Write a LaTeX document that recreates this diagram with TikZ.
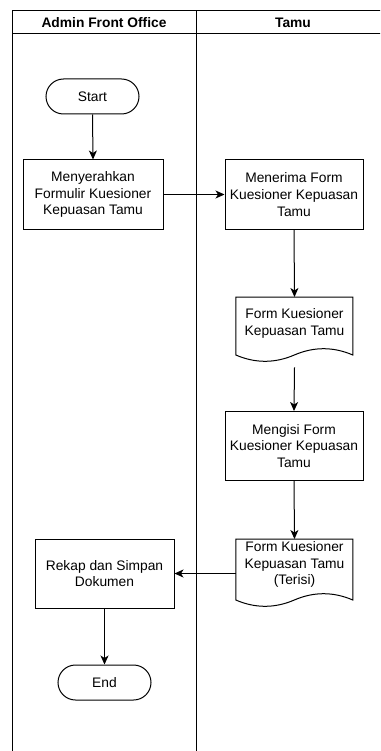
\documentclass[tikz,border=0pt]{standalone}
\usepackage{fontspec}
\setmainfont{Liberation Sans}
\usetikzlibrary{arrows.meta,calc}

\tikzset{
  x=1pt, y=-1pt,
  every node/.style={font=\fontsize{13.8}{16.6}\selectfont, align=center, text=black},
  lane/.style={draw=black, line width=1pt},
  lanehead/.style={font=\fontsize{13.8}{16.6}\selectfont\bfseries},
  process/.style={draw=black, line width=1pt, rectangle, minimum width=139pt, minimum height=69pt, inner sep=1pt},
  terminal/.style={draw=black, line width=1pt, rectangle, rounded corners=17.5pt, minimum width=93pt, minimum height=35pt},
  docarea/.style={rectangle, minimum width=117pt, inner sep=1pt},
  docline/.style={draw=black, line width=1pt, fill=white},
  flow/.style={draw=black, line width=1pt, -{Stealth[length=9pt, width=8pt, inset=2.5pt]}}
}

% document symbol: straight top and sides, wavy bottom; #1 = node, #2 = full height
\newcommand{\docwave}[2]{%
  \draw[docline, shift={(#1.north west)}]
    (0,0) -- (117,0) -- (117,{#2-7})
    .. controls (97.5,{#2-15.4}) and (78,{#2-15.4}) .. (58.5,{#2-7})
    .. controls (39,{#2+1.4}) and (19.5,{#2+1.4}) .. (0,{#2-7}) -- cycle;}

\begin{document}
\begin{tikzpicture}
\useasboundingbox (0,0) rectangle (380,751);
\clip (0,0) rectangle (380,751);
\fill[white] (0,0) rectangle (380,751);

% swimlanes
\draw[lane] (12,760) -- (12,11) -- (390,11) -- (390,760);
\draw[lane] (12,34) -- (390,34);
\draw[lane] (196,11) -- (196,760);
\node[lanehead] (laneA) at (104,22.5) {Admin Front Office};
\node[lanehead] (laneB) at (293,22.5) {Tamu};

% Admin Front Office
\node[terminal] (start) at (92.5,96.5) {Start};
\node[process, minimum width=140pt] (serah) at (93,194.5) {Menyerahkan\\Formulir Kuesioner\\Kepuasan Tamu};
\node[process] (rekap) at (104.5,573.5) {Rekap dan Simpan\\Dokumen};
\node[terminal] (end) at (104.5,682.5) {End};

% Tamu
\node[process, minimum width=138pt] (terima) at (294,194.5) {Menerima Form\\Kuesioner Kepuasan\\Tamu};
\node[docarea, minimum height=53pt, anchor=north] (doc1) at (294.5,297) {};
\docwave{doc1}{65}
\node (doc1text) at (doc1.center) {Form Kuesioner\\Kepuasan Tamu};
\node[process, minimum width=138pt] (isi) at (294,446) {Mengisi Form\\Kuesioner Kepuasan\\Tamu};
\node[docarea, minimum height=51pt, anchor=north] (doc2) at (294.5,539) {};
\docwave{doc2}{68}
\node (doc2text) at (doc2.center) {Form Kuesioner\\Kepuasan Tamu\\(Terisi)};

% flow
\draw[flow] (start.south) -- (serah.north);
\draw[flow] (serah.east) -- (terima.west);
\draw[flow] (terima.south) -- (doc1.north);
\draw[flow] ([yshift=-17pt]doc1.south) -- (isi.north);
\draw[flow] (isi.south) -- (doc2.north);
\draw[flow] (rekap.east -| doc2.west) -- (rekap.east);
\draw[flow] (rekap.south) -- (end.north);
\end{tikzpicture}
\end{document}
